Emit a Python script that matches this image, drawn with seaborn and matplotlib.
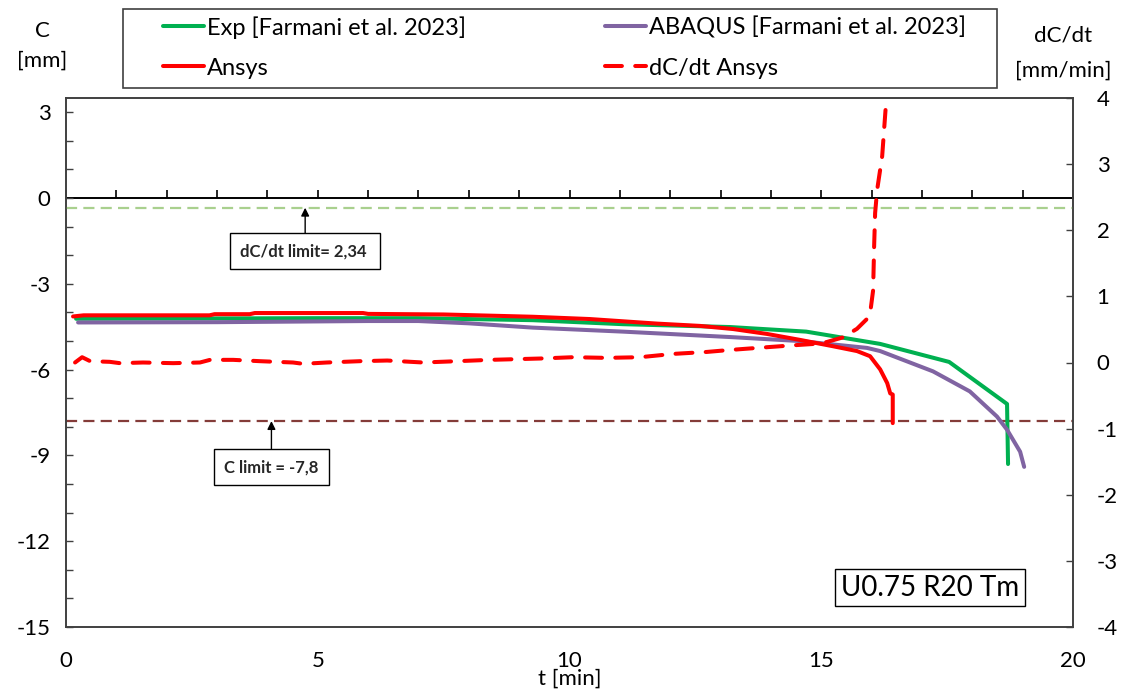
import numpy as np
import matplotlib
matplotlib.use("Agg")
import matplotlib.pyplot as plt
import seaborn as sns
from matplotlib.patches import Rectangle
from matplotlib.ticker import MultipleLocator

# ---------------- data ----------------
t_exp = [0.2, 5.0, 7.0, 9.27, 11.06, 13.19, 14.7, 16.17, 17.54, 18.69, 18.71]
c_exp = [-4.22, -4.20, -4.20, -4.27, -4.41, -4.51, -4.67, -5.10, -5.73, -7.20, -9.30]

t_abq = [0.24, 3.0, 6.0, 7.0, 8.0, 9.27, 11.06, 13.19, 14.58, 15.91, 16.17,
         17.22, 17.95, 18.49, 18.69, 18.95, 19.03]
c_abq = [-4.35, -4.34, -4.30, -4.30, -4.38, -4.53, -4.67, -4.86, -5.00, -5.24, -5.35,
         -6.06, -6.76, -7.64, -8.10, -8.87, -9.40]

t_ans = [0.14, 0.35, 2.85, 2.95, 3.65, 3.75, 5.9, 6.0, 7.5, 9.27, 10.4, 11.74,
         12.59, 13.25, 13.92, 14.58, 15.23, 15.71, 15.97, 16.17, 16.31, 16.37,
         16.42, 16.42]
c_ans = [-4.14, -4.10, -4.10, -4.06, -4.06, -4.02, -4.02, -4.05, -4.07, -4.15, -4.23,
         -4.39, -4.47, -4.58, -4.75, -4.96, -5.18, -5.35, -5.53, -5.99, -6.47, -6.83,
         -6.87, -7.87]

t_rate = [0.18, 0.32, 0.48, 0.87, 1.07, 1.53, 2.13, 2.66, 2.86, 3.32, 3.85, 4.51,
          4.71, 5.18, 5.84, 6.38, 7.09, 7.77, 8.42, 9.41, 10.07, 10.74, 11.4, 12.06,
          12.73, 13.19, 13.72, 14.44, 14.84, 15.11, 15.43, 15.71, 15.91, 15.97,
          16.03, 16.05, 16.07, 16.11, 16.21, 16.29]
rate_ans = [0.0, 0.08, 0.02, 0.01, -0.01, 0.0, -0.01, 0.0, 0.04, 0.04, 0.02, 0.0,
            -0.02, 0.0, 0.02, 0.03, 0.0, 0.02, 0.04, 0.06, 0.08, 0.07, 0.08, 0.13,
            0.16, 0.19, 0.22, 0.26, 0.28, 0.31, 0.38, 0.51, 0.66, 0.74,
            1.09, 1.75, 2.26, 2.61, 3.12, 3.96]

c_limit = -7.8
rate_limit = 2.34

x_ticks = [0, 5, 10, 15, 20]
c_ticks = [-15, -12, -9, -6, -3, 0, 3]
rate_ticks = [-4, -3, -2, -1, 0, 1, 2, 3, 4]

labels = ["Exp [Farmani et al. 2023]", "ABAQUS [Farmani et al. 2023]",
          "Ansys", "dC/dt Ansys"]

# ---------------- style ----------------
sns.set_theme(style="white")
plt.rcParams["font.family"] = ["Lato", "DejaVu Sans"]
plt.rcParams["axes.unicode_minus"] = False

GREEN = "#00B050"
PURPLE = "#8064A2"
RED = "#FF0000"
SPINE = "#404040"
FS = 16

fig = plt.figure(figsize=(11.28, 6.92), dpi=100)
ax = fig.add_axes([66 / 1128, 1 - 627 / 692, (1073 - 66) / 1128, (627 - 98) / 692])
ax2 = ax.twinx()

c_min, c_max = -15, 3.5
ax.set_xlim(0, 20)
ax.set_ylim(c_min, c_max)
ax2.set_ylim(-4, 4)

sns.lineplot(x=t_exp, y=c_exp, ax=ax, color=GREEN, lw=2.9, estimator=None, sort=False)
sns.lineplot(x=t_abq, y=c_abq, ax=ax, color=PURPLE, lw=2.9, estimator=None, sort=False)
sns.lineplot(x=t_ans, y=c_ans, ax=ax, color=RED, lw=2.9, estimator=None, sort=False)
l_exp, l_abq, l_ans = ax.lines[0], ax.lines[1], ax.lines[2]

sns.lineplot(x=t_rate, y=rate_ans, ax=ax2, color=RED, lw=2.9, estimator=None, sort=False)
l_rate = ax2.lines[0]
l_rate.set_dashes((4.2, 3.3))
l_rate.set_dash_capstyle("round")
l_rate.set_solid_capstyle("round")

# limit lines
ax.axhline(c_limit, color="#843C39", lw=1.6, ls=(0, (5, 2.8)), zorder=1)
ax2.axhline(rate_limit, color="#A9D08E", lw=1.6, ls=(0, (5, 2.8)), zorder=1)

# ticks
ax.set_xticks(x_ticks)
ax.set_yticks(c_ticks)
ax.yaxis.set_minor_locator(MultipleLocator(1))
ax.tick_params(axis="x", which="both", length=0, pad=17, labelsize=FS, colors="black")
ax.tick_params(axis="y", which="both", direction="in", length=5, width=1,
               left=True, right=False, pad=11, labelsize=FS, colors="black")
ax.tick_params(axis="y", which="both", color=SPINE)
ax2.set_yticks(rate_ticks)
ax2.tick_params(axis="y", which="both", direction="in", length=5, width=1,
                right=True, left=False, pad=17, labelsize=FS, colors="black")
ax2.tick_params(axis="y", which="both", color=SPINE)

# horizontal axis line at C = 0 with minute ticks
zero_pos = (0 - c_min) / (c_max - c_min)
sec = ax.secondary_xaxis(zero_pos)
sec.xaxis.set_major_locator(MultipleLocator(1))
sec.tick_params(axis="x", which="both", direction="out", length=6, width=1.2,
                top=True, bottom=False, labeltop=False, labelbottom=False, color="black")
for s in sec.spines.values():
    s.set_color("black")
    s.set_linewidth(1.4)

for a in (ax, ax2):
    for s in a.spines.values():
        s.set_color(SPINE)
        s.set_linewidth(1.2)
        s.set_visible(True)

ax.grid(False)
ax2.grid(False)

# axis labels
ax.set_xlabel("t [min]", fontsize=FS, color="black", va="center")
ax.xaxis.set_label_coords((570 - 66) / 1007, -(679 - 627) / 529)
ax.set_ylabel("C\n[mm]", fontsize=FS, rotation=0, ha="center", va="center",
              color="black", linespacing=1.6)
ax.yaxis.set_label_coords((42 - 66) / 1007, (627 - 46) / 529)
ax2.set_ylabel("dC/dt\n[mm/min]", fontsize=FS, rotation=0, ha="center", va="center",
               color="black", linespacing=1.9)
ax2.yaxis.set_label_coords((1063 - 66) / 1007, (627 - 53) / 529)

# annotations
box = dict(boxstyle="square,pad=0.6", fc="white", ec="black", lw=1)
arrow = dict(arrowstyle="-|>", color="black", lw=1, shrinkA=0, shrinkB=0, mutation_scale=12)
ax2.annotate("dC/dt limit= 2,34 ", xy=(4.75, rate_limit), xytext=(4.75, 1.68),
             ha="center", va="center", fontsize=12, fontweight="bold",
             bbox=box, arrowprops=arrow)
ax.annotate("C limit = -7,8", xy=(4.08, c_limit), xytext=(4.08, -9.41),
            ha="center", va="center", fontsize=12, fontweight="bold",
            bbox=box, arrowprops=arrow)
ax.text(17.16, -13.62, "U0.75 R20 Tm", ha="center", va="center", fontsize=20,
        color="black",
        bbox=dict(boxstyle="square,pad=0.2", fc="white", ec="black", lw=1))

# legend
leg = fig.legend([l_exp, l_ans, l_abq, l_rate],
                 [labels[0], labels[2], labels[1], labels[3]],
                 loc="upper left", bbox_to_anchor=(163 / 1128, 1 - 16 / 692),
                 ncol=2, frameon=False, borderpad=0, borderaxespad=0,
                 handlelength=1.75, handletextpad=0.13, columnspacing=5.85,
                 labelspacing=0.8, fontsize=17)
for txt in leg.get_texts():
    txt.set_color("black")
fig.add_artist(Rectangle((123 / 1128, 1 - 88 / 692), (997 - 123) / 1128, (88 - 9) / 692,
                         transform=fig.transFigure, fill=False, ec=SPINE, lw=1.2))

fig.savefig("out.png", dpi=100)
